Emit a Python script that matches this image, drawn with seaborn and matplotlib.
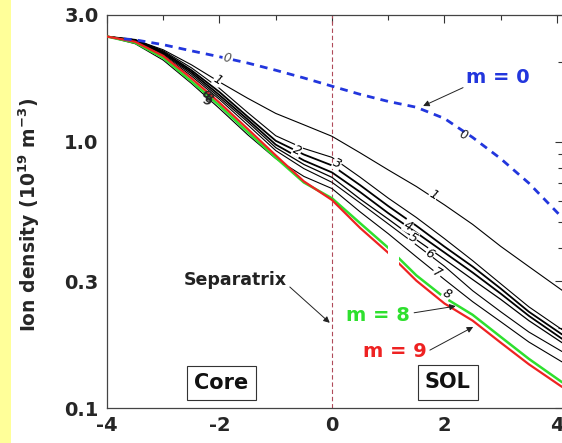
import matplotlib
matplotlib.use("Agg")
import matplotlib.pyplot as plt
import seaborn as sns
import numpy as np
import pandas as pd
from matplotlib.patches import Rectangle
from matplotlib.ticker import NullFormatter

# ---------------- data ----------------
X = [-4, -3.5, -3, -2.5, -2, -1.5, -1, -0.5, 0, 0.5, 1, 1.5, 2, 2.5, 3, 3.5, 4.09]

m1 = [2.49, 2.42, 2.22, 1.95, 1.68, 1.46, 1.28, 1.16, 1.05, 0.91, 0.785, 0.68, 0.58, 0.49, 0.405, 0.34, 0.277]
m2 = [2.49, 2.42, 2.20, 1.90, 1.59, 1.29, 1.055, 0.945, 0.875, 0.737, 0.615, 0.52, 0.433, 0.358, 0.293, 0.240, 0.197]
m3 = [2.49, 2.42, 2.18, 1.86, 1.54, 1.245, 1.01, 0.897, 0.816, 0.688, 0.574, 0.484, 0.404, 0.34, 0.281, 0.23, 0.189]
m4 = [2.49, 2.40, 2.16, 1.83, 1.50, 1.215, 0.977, 0.852, 0.768, 0.648, 0.54, 0.456, 0.384, 0.323, 0.269, 0.222, 0.182]
m5 = [2.49, 2.40, 2.14, 1.80, 1.47, 1.19, 0.952, 0.823, 0.736, 0.61, 0.513, 0.429, 0.362, 0.304, 0.256, 0.213, 0.176]
m6 = [2.49, 2.38, 2.12, 1.77, 1.445, 1.16, 0.928, 0.794, 0.705, 0.59, 0.492, 0.41, 0.341, 0.276, 0.23, 0.193, 0.163]
m7 = [2.49, 2.34, 2.03, 1.66, 1.335, 1.065, 0.866, 0.742, 0.668, 0.546, 0.452, 0.37, 0.304, 0.251, 0.211, 0.177, 0.149]
m8 = [2.49, 2.36, 2.07, 1.69, 1.37, 1.09, 0.873, 0.704, 0.614, 0.495, 0.40, 0.315, 0.26, 0.224, 0.185, 0.153, 0.125]
m9 = [2.49, 2.38, 2.105, 1.735, 1.405, 1.12, 0.89, 0.711, 0.605, 0.475, 0.383, 0.301, 0.247, 0.213, 0.176, 0.146, 0.12]

X0 = [-3.7, -3.5, -3, -2.5, -2, -1.5, -1, -0.5, 0, 0.5, 1, 1.5, 2, 2.5, 3, 3.5, 4.09]
m0 = [2.44, 2.42, 2.32, 2.20, 2.09, 1.98, 1.86, 1.74, 1.62, 1.51, 1.42, 1.35, 1.225, 1.04, 0.865, 0.70, 0.52]

black_modes = {"1": m1, "2": m2, "3": m3, "4": m4, "5": m5, "6": m6, "7": m7}
black_widths = {"1": 0.8, "2": 0.8, "3": 1.3, "4": 1.3, "5": 0.9, "6": 0.8, "7": 0.8}

x_ticks = [-4, -2, 0, 2, 4]
x_minor = [-3, -1, 1, 3]
y_ticks = [0.1, 0.3, 1.0, 3.0]
y_ticklabels = ["0.1", "0.3", "1.0", "3.0"]
y_minor = [0.2, 0.4, 0.5, 0.6, 0.7, 0.8, 0.9, 2.0]

# ---------------- style ----------------
sns.set_style("white")
plt.rcParams["font.family"] = ["DejaVu Sans"]
plt.rcParams["font.weight"] = "bold"
plt.rcParams["axes.unicode_minus"] = False
plt.rcParams["mathtext.default"] = "bf"

fig = plt.figure(figsize=(5.62, 4.43), dpi=100)
fig.patch.set_facecolor("white")
fig.patches.append(Rectangle((0, 0), 11 / 562, 1, transform=fig.transFigure,
                             fc="#ffff99", ec="none", zorder=0))

ax = fig.add_axes([107 / 562, 1 - 408 / 443, 456 / 562, 393 / 443])
ax.set_yscale("log")
ax.set_xlim(-4, 4.1067)
ax.set_ylim(0.1, 3.0)

# ---------------- curves ----------------
for k, vals in black_modes.items():
    df = pd.DataFrame({"x": X, "n": vals})
    sns.lineplot(data=df, x="x", y="n", ax=ax, color="black",
                 lw=black_widths[k], sort=False, estimator=None, zorder=2)

sns.lineplot(x=X, y=m8, ax=ax, color="#2ee02e", lw=1.8, sort=False,
             estimator=None, zorder=3)
sns.lineplot(x=X, y=m9, ax=ax, color="#ee2222", lw=1.6, sort=False,
             estimator=None, zorder=3)
sns.lineplot(x=X0, y=m0, ax=ax, color="#2236dd", lw=2.0, sort=False,
             estimator=None, zorder=3, linestyle=(0, (2.8, 2.2)))

# white break in the m=8/9 curves
ax.add_patch(Rectangle((1.0, 0.345), 0.2, 0.06, fc="white", ec="none", zorder=4))

# separatrix line
ax.axvline(0, color="#b04a5a", lw=0.8, ls=(0, (4, 2.5)), zorder=1)

# ---------------- contour-style labels ----------------
def lab(x, y, s, rot=-30, color="black"):
    ax.text(x, y, s, fontsize=9, style="italic", fontweight="normal",
            rotation=rot, ha="center", va="center", color=color, zorder=6,
            bbox=dict(fc="white", ec="none", pad=0.3))

lab(-1.87, 2.06, "0", rot=-10, color="#555555")
ax.text(2.33, 1.06, "0", fontsize=9, style="italic", fontweight="normal",
        rotation=-20, ha="center", va="center", zorder=6)
lab(-2.03, 1.71, "1", rot=-30)
lab(1.80, 0.63, "1", rot=-30)
lab(-0.62, 0.93, "2", rot=-25)
lab(0.09, 0.83, "3", rot=-25)
lab(1.35, 0.485, "4", rot=-30)
lab(1.44, 0.435, "5", rot=-30)
lab(1.74, 0.38, "6", rot=-30)
lab(1.87, 0.322, "7", rot=-30)
lab(2.04, 0.268, "8", rot=-30)
for dx, dy, s in [(-2.26, 1.50, "6"), (-2.20, 1.46, "8"), (-2.24, 1.42, "9")]:
    ax.text(dx, dy, s, fontsize=8, style="italic", fontweight="bold",
            rotation=-35, ha="center", va="center", zorder=6)

# ---------------- annotations ----------------
arrow_kw = dict(arrowstyle="-|>", color="#222222", lw=0.7, mutation_scale=9,
                shrinkA=0, shrinkB=0)
ax.text(2.95, 1.74, "m = 0", color="#2236dd", fontsize=14, fontweight="bold",
        ha="center", va="center", zorder=7)
ax.annotate("", xy=(1.62, 1.365), xytext=(2.33, 1.60), arrowprops=arrow_kw, zorder=7)

ax.text(0.82, 0.222, "m = 8", color="#2ee02e", fontsize=14, fontweight="bold",
        ha="center", va="center", zorder=7)
ax.annotate("", xy=(2.20, 0.2415), xytext=(1.46, 0.228), arrowprops=arrow_kw, zorder=7)

ax.text(1.12, 0.1625, "m = 9", color="#ee2222", fontsize=14, fontweight="bold",
        ha="center", va="center", zorder=7)
ax.annotate("", xy=(2.51, 0.2017), xytext=(1.74, 0.165), arrowprops=arrow_kw, zorder=7)

ax.text(-1.71, 0.303, "Separatrix", color="#222222", fontsize=12.5,
        fontweight="bold", ha="center", va="center", zorder=7)
ax.annotate("", xy=(-0.04, 0.209), xytext=(-0.75, 0.285), arrowprops=arrow_kw, zorder=7)

box_kw = dict(boxstyle="square,pad=0.35", fc="white", ec="#333333", lw=0.8)
ax.text(-1.97, 0.124, "Core", fontsize=15, fontweight="bold", color="#111111",
        ha="center", va="center", bbox=box_kw, zorder=7)
ax.text(2.06, 0.125, "SOL", fontsize=15, fontweight="bold", color="#111111",
        ha="center", va="center", bbox=box_kw, zorder=7)

# ---------------- axes ----------------
ax.set_xticks(x_ticks)
ax.set_xticks(x_minor, minor=True)
ax.set_yticks(y_ticks, labels=y_ticklabels)
ax.set_yticks(y_minor, minor=True)
ax.yaxis.set_minor_formatter(NullFormatter())
ax.xaxis.set_minor_formatter(NullFormatter())

ax.tick_params(which="both", direction="in", top=True, right=True,
               color="#333333", width=0.8, labelsize=14, pad=6)
ax.tick_params(which="major", length=6)
ax.tick_params(which="minor", length=3.5)
for lbl in ax.get_xticklabels() + ax.get_yticklabels():
    lbl.set_fontweight("bold")

for sp in ax.spines.values():
    sp.set_color("#444444")
    sp.set_linewidth(0.9)

ax.set_xlabel("")
ax.set_ylabel(r"Ion density (10$^{19}$ m$^{-3}$)", fontsize=13.5,
              fontweight="bold")
ax.yaxis.set_label_coords(-0.143, 0.49)

fig.savefig("out.png", dpi=100)
